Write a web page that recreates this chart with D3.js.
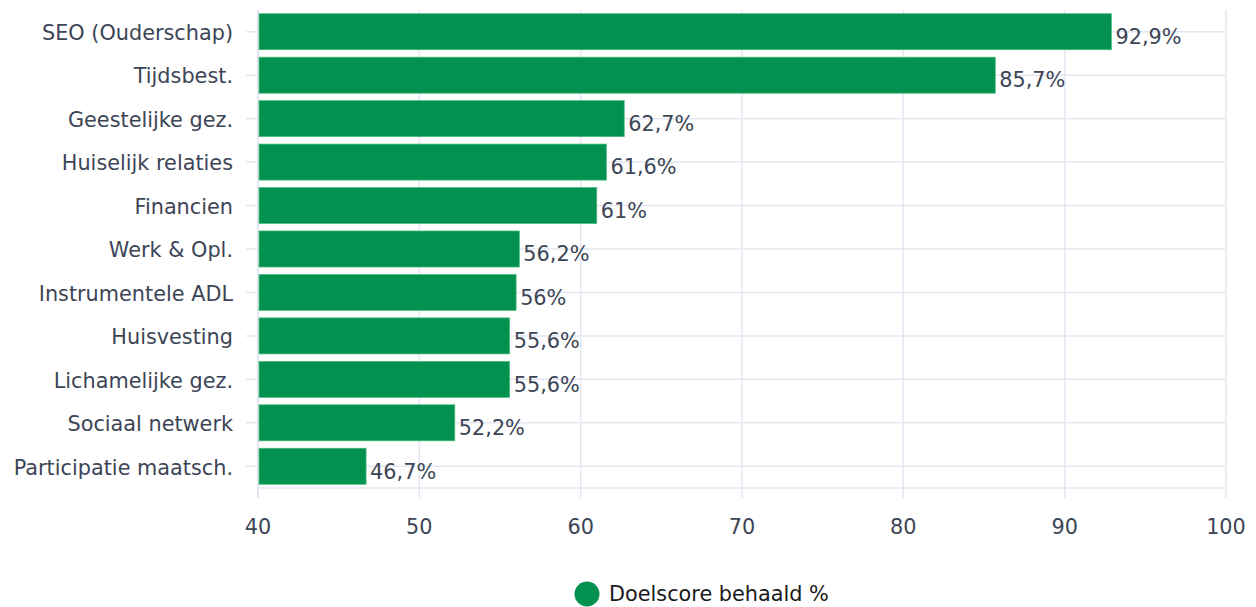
<!DOCTYPE html>
<html><head><meta charset="utf-8">
<script src="https://cdn.jsdelivr.net/npm/d3@7"></script>
<style>body{margin:0;background:#fff;} text{font-family:"DejaVu Sans",sans-serif;}</style>
</head><body><svg id="c" width="1256" height="607"></svg>
<script>
const categories = ["SEO (Ouderschap)","Tijdsbest.","Geestelijke gez.","Huiselijk relaties","Financien","Werk & Opl.","Instrumentele ADL","Huisvesting","Lichamelijke gez.","Sociaal netwerk","Participatie maatsch."];
const values = [92.9,85.7,62.7,61.6,61,56.2,56,55.6,55.6,52.2,46.7];
const xTicks = [40,50,60,70,80,90,100];
const seriesName = "Doelscore behaald %";

const svg = d3.select("#c");
const L=258, R=1226, T=10, B=488;
const grid="#e4e7f2", textCol="#3c4556", barCol="#03914f";
const FS = 20.8;
const x = d3.scaleLinear().domain([40,100]).range([L,R]);
const y = d3.scaleBand().domain(categories).range([T,B]).paddingInner(0.17).paddingOuter(0.085);
const yc = d => y(d)+y.bandwidth()/2;

svg.append("g").selectAll("line").data(xTicks).join("line")
  .attr("x1",d=>x(d)).attr("x2",d=>x(d)).attr("y1",T).attr("y2",B+10)
  .attr("stroke",grid).attr("stroke-width",d=>d===40?2:1.5);
svg.append("g").selectAll("line").data(categories).join("line")
  .attr("x1",L-12).attr("x2",R).attr("y1",d=>yc(d)).attr("y2",d=>yc(d))
  .attr("stroke",grid).attr("stroke-width",1.5);
svg.append("line").attr("x1",L).attr("x2",R).attr("y1",B).attr("y2",B).attr("stroke",grid).attr("stroke-width",1.5);

svg.append("g").selectAll("rect").data(categories).join("rect")
  .attr("x",x(40)+1).attr("y",d=>y(d)).attr("height",y.bandwidth())
  .attr("width",(d,i)=>x(values[i])-x(40)-1)
  .attr("fill",barCol).attr("stroke","#4fbf82").attr("stroke-width",0.7);

svg.append("g").selectAll("text").data(categories).join("text")
  .attr("x",(d,i)=>x(values[i])+4).attr("y",d=>yc(d)+5).attr("dy","0.35em")
  .attr("font-size",FS).attr("fill",textCol)
  .text((d,i)=>String(values[i]).replace(".",",")+"%");

svg.append("g").selectAll("text").data(categories).join("text")
  .attr("x",L-25).attr("y",d=>yc(d)+1).attr("dy","0.35em").attr("text-anchor","end")
  .attr("font-size",FS).attr("fill",textCol).text(d=>d);

svg.append("g").selectAll("text").data(xTicks).join("text")
  .attr("x",d=>x(d)).attr("y",527).attr("dy","0.35em").attr("text-anchor","middle")
  .attr("font-size",FS).attr("fill",textCol).text(d=>d);

svg.append("circle").attr("cx",587).attr("cy",594).attr("r",12.5).attr("fill",barCol);
svg.append("text").attr("x",609).attr("y",594).attr("dy","0.33em")
  .attr("font-size",FS).attr("fill","#1a1a1a").text(seriesName);
</script></body></html>
